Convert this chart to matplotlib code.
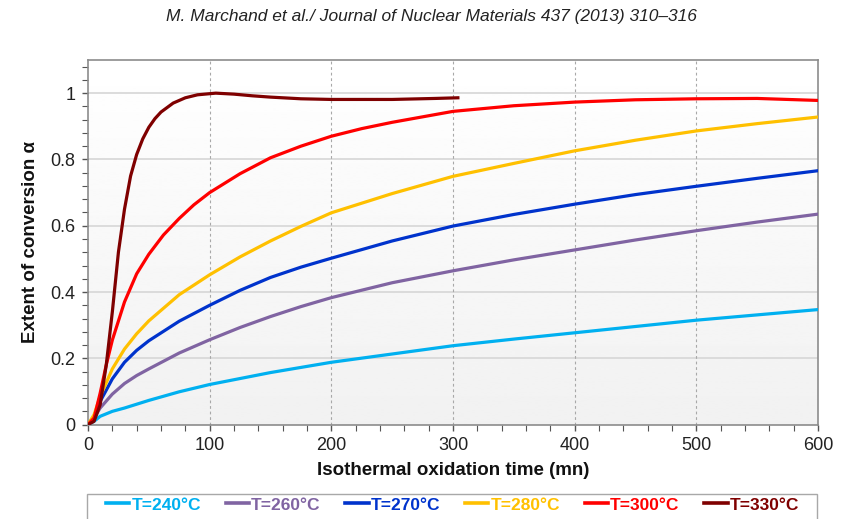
import numpy as np
import matplotlib
matplotlib.use("Agg")
import matplotlib.pyplot as plt
from matplotlib.patches import Rectangle
from matplotlib.ticker import MultipleLocator, FuncFormatter

# ---- data ----
t_240 = [0, 5, 10, 20, 30, 50, 75, 100, 150, 200, 250, 300, 350, 400, 450, 500, 550, 600]
a_240 = [0, 0.010, 0.025, 0.040, 0.050, 0.073, 0.099, 0.121, 0.157, 0.188, 0.213, 0.238, 0.258, 0.277, 0.296, 0.315, 0.331, 0.347]

t_260 = [0, 5, 10, 20, 30, 40, 50, 75, 100, 125, 150, 175, 200, 250, 300, 350, 400, 450, 500, 550, 600]
a_260 = [0, 0.020, 0.050, 0.092, 0.124, 0.148, 0.168, 0.216, 0.256, 0.293, 0.326, 0.356, 0.383, 0.428, 0.464, 0.497, 0.527, 0.557, 0.585, 0.611, 0.635]

t_270 = [0, 5, 10, 20, 30, 40, 50, 75, 100, 125, 150, 175, 200, 250, 300, 350, 400, 450, 500, 550, 600]
a_270 = [0, 0.025, 0.070, 0.138, 0.188, 0.224, 0.253, 0.312, 0.360, 0.405, 0.444, 0.475, 0.502, 0.554, 0.599, 0.634, 0.665, 0.694, 0.719, 0.743, 0.766]

t_280 = [0, 5, 10, 20, 30, 40, 50, 75, 100, 125, 150, 175, 200, 250, 300, 350, 400, 450, 500, 550, 600]
a_280 = [0, 0.030, 0.085, 0.168, 0.228, 0.274, 0.313, 0.392, 0.452, 0.506, 0.554, 0.598, 0.639, 0.697, 0.749, 0.788, 0.826, 0.858, 0.886, 0.908, 0.928]

t_300 = [0, 5, 10, 15, 20, 30, 40, 50, 62, 75, 87, 100, 125, 150, 175, 200, 225, 250, 300, 350, 400, 450, 500, 550, 600]
a_300 = [0, 0.020, 0.095, 0.180, 0.255, 0.370, 0.455, 0.514, 0.572, 0.622, 0.663, 0.700, 0.757, 0.805, 0.840, 0.870, 0.893, 0.912, 0.945, 0.962, 0.973, 0.980, 0.983, 0.984, 0.978]

t_330 = [0, 5, 10, 15, 20, 25, 30, 35, 40, 45, 50, 55, 60, 70, 80, 90, 105, 120, 135, 150, 175, 200, 250, 285, 304]
a_330 = [0, 0.010, 0.060, 0.180, 0.340, 0.520, 0.650, 0.750, 0.815, 0.862, 0.897, 0.923, 0.943, 0.970, 0.986, 0.995, 1.000, 0.997, 0.992, 0.988, 0.983, 0.981, 0.981, 0.984, 0.986]

series_labels = ["T=240°C", "T=260°C", "T=270°C", "T=280°C", "T=300°C", "T=330°C"]
series_t = [t_240, t_260, t_270, t_280, t_300, t_330]
series_a = [a_240, a_260, a_270, a_280, a_300, a_330]
series_colors = ["#00b0f0", "#8064a2", "#0033cc", "#ffc000", "#ff0000", "#7f0000"]

title_text = "M. Marchand et al./ Journal of Nuclear Materials 437 (2013) 310–316"
x_label = "Isothermal oxidation time (mn)"
y_label = "Extent of conversion α"

# ---- figure ----
W, H = 844, 519
fig = plt.figure(figsize=(W / 100, H / 100), dpi=100)
fig.patch.set_facecolor("white")

L, R, T, B = 88, 818, 60, 424.6
ax = fig.add_axes([L / W, 1 - B / H, (R - L) / W, (B - T) / H])

ax.set_xlim(0, 600)
ax.set_ylim(0, 1.1)

# gradient background
grad = np.linspace(0.945, 1.0, 256).reshape(-1, 1)
ax.imshow(grad, cmap="gray", vmin=0, vmax=1, extent=[0, 1, 1, 0],
          transform=ax.transAxes, aspect="auto", zorder=0, interpolation="bilinear")
ax.set_facecolor("#f4f4f4")

# grids
for yv in [0.2, 0.4, 0.6, 0.8, 1.0]:
    ax.axhline(yv, color="#d9d9d9", lw=1.3, zorder=1)
for xv in [100, 200, 300, 400, 500]:
    ax.axvline(xv, color="#a8a8a8", lw=0.8, ls=(0, (2.5, 2.5)), zorder=1)

for t, a, lab, c in zip(series_t, series_a, series_labels, series_colors):
    ax.plot(t, a, color=c, lw=2.3, label=lab, zorder=3, solid_joinstyle="round")

ax.xaxis.set_major_locator(MultipleLocator(100))
ax.xaxis.set_minor_locator(MultipleLocator(20))
ax.yaxis.set_major_locator(MultipleLocator(0.2))
ax.yaxis.set_minor_locator(MultipleLocator(0.04))
ax.yaxis.set_major_formatter(FuncFormatter(lambda v, p: "0" if abs(v) < 1e-9 else ("1" if abs(v - 1) < 1e-9 else f"{v:.1f}")))

ax.tick_params(axis="both", which="major", direction="out", length=4, width=1, color="#555555",
               labelcolor="#222222", pad=5)
ax.tick_params(axis="both", which="minor", direction="out", length=4, width=0.8, color="#555555")
for lbl in ax.get_xticklabels() + ax.get_yticklabels():
    lbl.set_fontfamily(["Liberation Sans", "DejaVu Sans"])
    lbl.set_fontsize(13)

for s in ax.spines.values():
    s.set_color("#8c8c8c")
    s.set_linewidth(1.2)

ax.set_xlabel(x_label, fontsize=13.5, fontweight="bold", family=["Liberation Sans", "DejaVu Sans"],
              color="#111111", labelpad=6)
ax.set_ylabel(y_label, fontsize=13.5, fontweight="bold", family=["Liberation Sans", "DejaVu Sans"],
              color="#111111", labelpad=8)

fig.text(431 / W, 1 - 16 / H, title_text, ha="center", va="center", style="italic",
         family=["Liberation Sans Narrow", "Liberation Sans", "DejaVu Sans"], fontsize=12.5, color="#222222")

# legend box frame (spans the plot width, runs off the bottom edge)
fig.patches.append(Rectangle((87 / W, -0.01), 730 / W, 0.01 + (519 - 494) / H,
                             transform=fig.transFigure, facecolor="white",
                             edgecolor="#a8a8a8", lw=1.0, zorder=1))

leg = fig.legend(loc="center", bbox_to_anchor=(452.5 / W, 1 - 505 / H),
                 ncol=6, frameon=False,
                 handlelength=1.35, handletextpad=0.12, borderpad=0.2, borderaxespad=0.0,
                 columnspacing=1.42,
                 labelcolor="linecolor", prop=dict(family=["Liberation Sans", "DejaVu Sans"], weight="bold", size=12.5))
leg.set_zorder(5)
for ln in leg.get_lines():
    ln.set_linewidth(2.6)

fig.savefig("out.png", dpi=100, facecolor="white")
